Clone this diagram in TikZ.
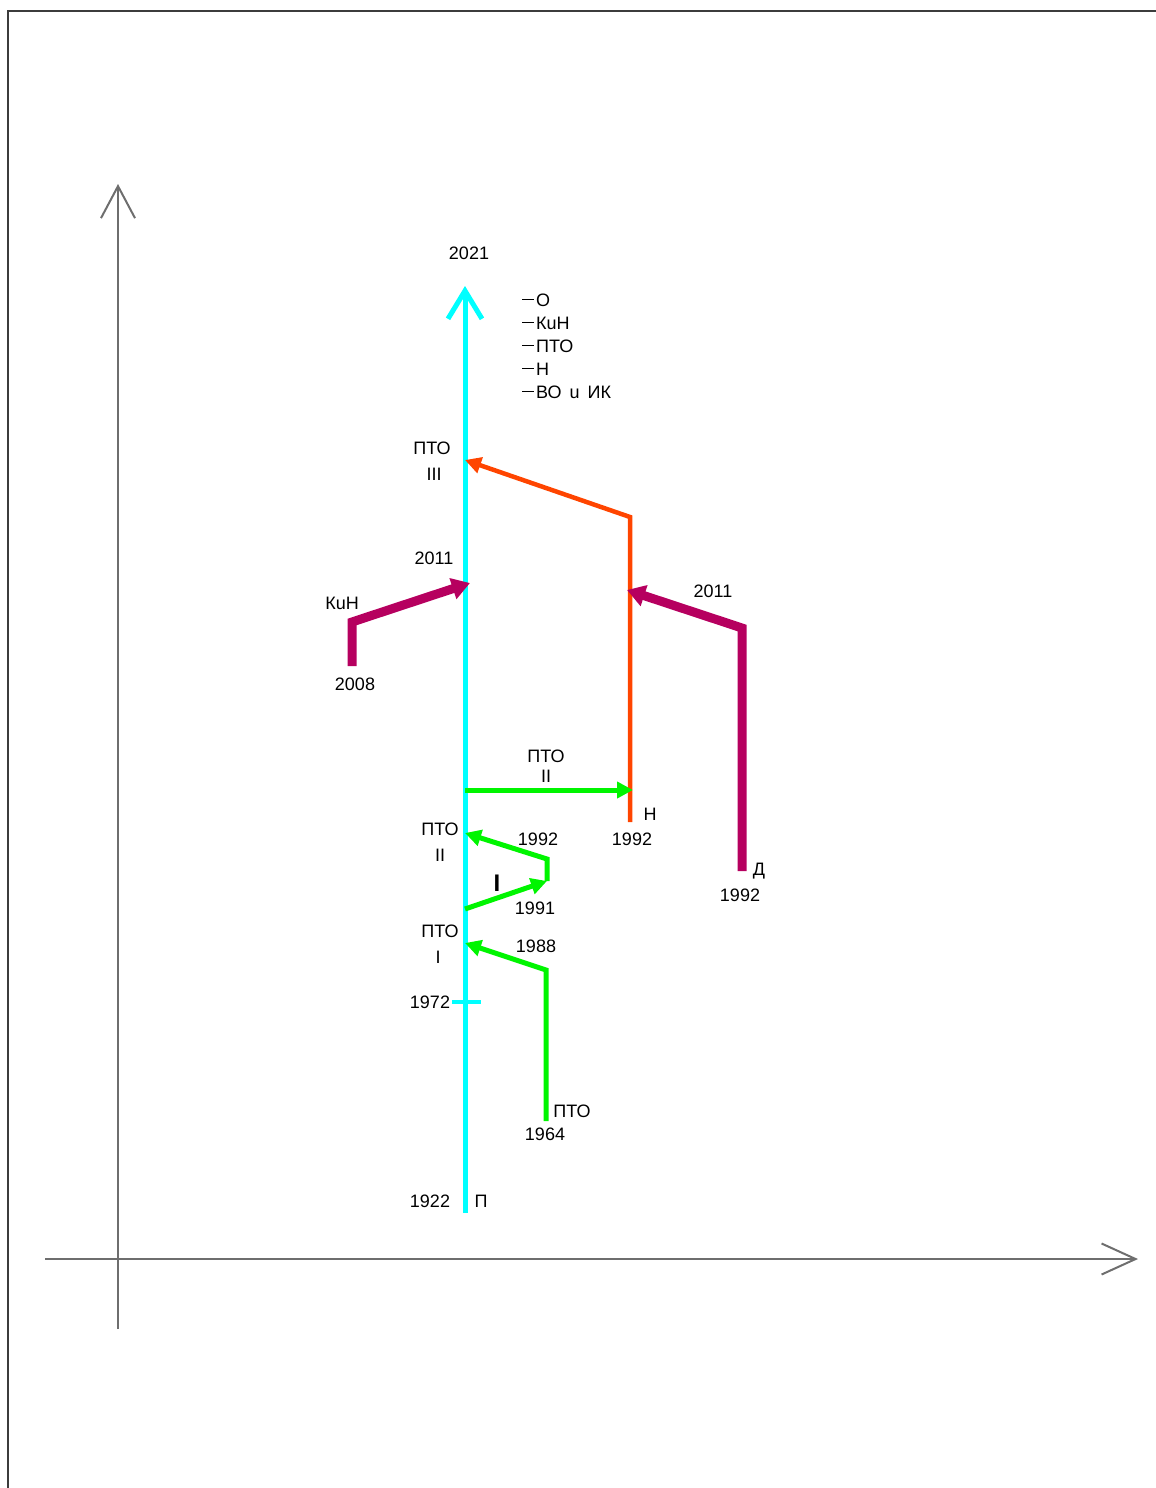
\documentclass[tikz,border=0pt]{standalone}
\usepackage{fontspec}
\setmainfont{Liberation Sans}
\usetikzlibrary{arrows.meta}
\definecolor{axgray}{RGB}{110,110,110}
\definecolor{framegray}{RGB}{60,60,60}
\definecolor{cyanline}{RGB}{0,255,255}
\definecolor{orangeline}{RGB}{255,69,0}
\definecolor{greenline}{RGB}{0,245,0}
\definecolor{magline}{RGB}{182,0,95}
\newcommand{\lgdash}{\rule[0.33em]{12pt}{1.6pt}\kern2pt}
\tikzset{
  lbl/.style={inner sep=0pt, font=\fontsize{18}{21}\selectfont},
  axis/.style={draw=axgray, line width=2pt},
  cyanpath/.style={draw=cyanline, line width=5pt},
  orangepath/.style={draw=orangeline, line width=4.5pt, line join=miter},
  greenpath/.style={draw=greenline, line width=5pt, line join=miter},
  magpath/.style={draw=magline, line width=9pt, line join=miter},
  tri/.style={-{Triangle[length=16pt,width=16pt]}},
  bigtri/.style={-{Triangle[length=18pt,width=21pt]}}
}
\begin{document}
\begin{tikzpicture}[x=1pt,y=-1pt]
\useasboundingbox (0,0) rectangle (1156,1488);
% frame
\draw[framegray, line width=2pt] (8,1488) -- (8,11) -- (1156,11);
% axes
\coordinate (yb) at (118,1329);
\coordinate (yt) at (118,184);
\coordinate (xl) at (45,1259);
\coordinate (xr) at (1138,1259);
\draw[axis, -{Straight Barb[length=32pt,width=34pt,line width=2pt]}] (yb) -- (yt);
\draw[axis, -{Straight Barb[length=34pt,width=31pt,line width=2pt]}] (xl) -- (xr);
% main cyan line
\coordinate (cb) at (465,1213);
\coordinate (ct) at (465,286);
\draw[cyanpath, -{Straight Barb[length=28pt,width=34pt,line width=5pt]}] (cb) -- (ct);
\coordinate (tk1) at (452,1002);
\coordinate (tk2) at (481,1002);
\draw[draw=cyanline, line width=3.5pt] (tk1) -- (tk2);
% orange path
\coordinate (ob) at (630,822);
\coordinate (oc) at (630,517);
\coordinate (oe) at (465,460);
\draw[orangepath, tri] (ob) -- (oc) -- (oe);
% magenta left
\coordinate (mlb) at (352,666);
\coordinate (mlc) at (352,622);
\coordinate (mle) at (470,583);
\draw[magpath, bigtri] (mlb) -- (mlc) -- (mle);
% magenta right
\coordinate (mrb) at (742,871);
\coordinate (mrc) at (742,628);
\coordinate (mre) at (627,590);
\draw[magpath, bigtri] (mrb) -- (mrc) -- (mre);
% green horizontal
\coordinate (gh1) at (465,790);
\coordinate (gh2) at (633,790);
\draw[greenpath, tri] (gh1) -- (gh2);
% green zigzag
\coordinate (gz1) at (465,909);
\coordinate (gz2) at (547,881);
\coordinate (gz3) at (547,859);
\coordinate (gz4) at (465,833);
\draw[greenpath, tri] (gz1) -- (gz2);
\draw[greenpath, tri] (gz2) -- (gz3) -- (gz4);
% green lower
\coordinate (gl1) at (546,1121);
\coordinate (gl2) at (546,970);
\coordinate (gl3) at (465,943);
\draw[greenpath, tri] (gl1) -- (gl2) -- (gl3);
% labels
\node[lbl] (t2021) at (469,253) {2021};
\node[lbl, anchor=west] (lg1) at (522,300) {\lgdash О};
\node[lbl, anchor=west] (lg2) at (522,323) {\lgdash КuН};
\node[lbl, anchor=west] (lg3) at (522,346) {\lgdash ПТО};
\node[lbl, anchor=west] (lg4) at (522,369) {\lgdash Н};
\node[lbl, anchor=west] (lg5) at (522,392) {\lgdash ВО\hspace{8pt}u\hspace{8pt}ИК};
\node[lbl] (p3a) at (432,448) {ПТО};
\node[lbl] (p3b) at (434,474) {III};
\node[lbl] (y2011a) at (434,558) {2011};
\node[lbl] (kun) at (342,603) {КuН};
\node[lbl] (y2008) at (355,684) {2008};
\node[lbl] (y2011b) at (713,591) {2011};
\node[lbl] (p2a) at (546,756) {ПТО};
\node[lbl] (p2b) at (546,776) {II};
\node[lbl] (nn) at (650,814) {Н};
\node[lbl] (y1992a) at (632,839) {1992};
\node[lbl] (p2c) at (440,829) {ПТО};
\node[lbl] (p2d) at (440,855) {II};
\node[lbl] (y1992b) at (538,839) {1992};
\node[inner sep=0pt, font=\fontsize{24}{26}\selectfont\bfseries] (rI) at (497,883) {I};
\node[lbl] (y1991) at (535,908) {1991};
\node[lbl] (dd) at (759,871) {Д};
\node[lbl] (y1992c) at (740,895) {1992};
\node[lbl] (p1a) at (440,931) {ПТО};
\node[lbl] (p1b) at (438,957) {I};
\node[lbl] (y1988) at (536,946) {1988};
\node[lbl] (y1972) at (430,1002) {1972};
\node[lbl] (pto) at (572,1111) {ПТО};
\node[lbl] (y1964) at (545,1134) {1964};
\node[lbl] (y1922) at (430,1201) {1922};
\node[lbl] (pp) at (481,1201) {П};
\end{tikzpicture}
\end{document}
